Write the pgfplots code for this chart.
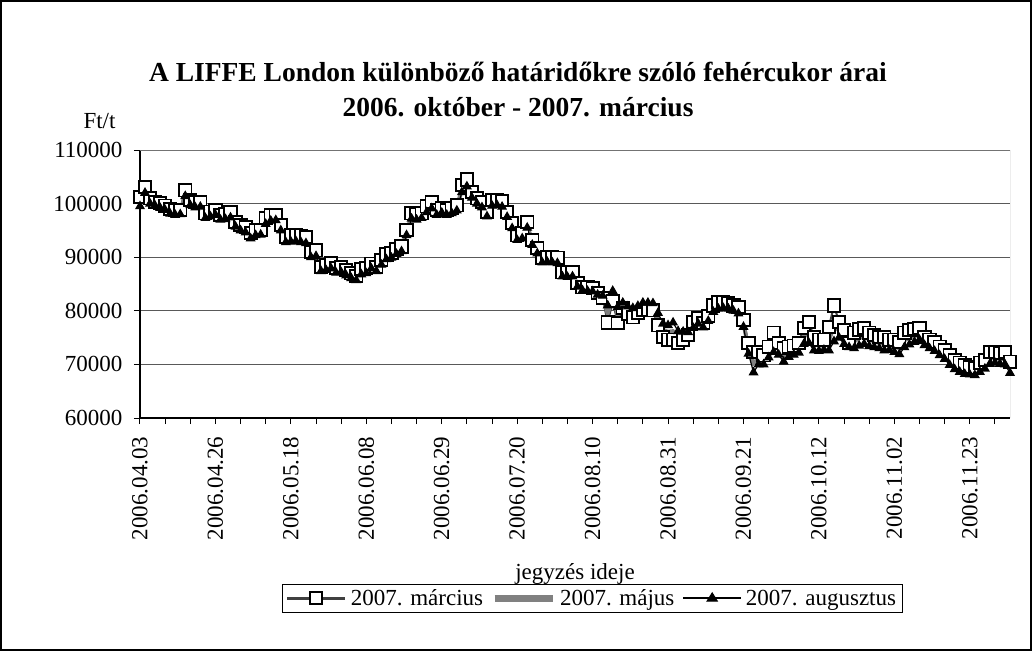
\documentclass[border=0pt]{standalone}
\usepackage{fontspec}
\setmainfont{Liberation Serif}
\usepackage{pgfplots}
\pgfplotsset{compat=1.18}
\usepackage{pgfplotstable}

\pgfplotsset{
    marleg/.style={legend image code/.code={
        \draw[black!75, line width=3pt] (0pt,0pt) -- (58pt,0pt);
        \draw[black, line width=1.8pt, fill=white] (23pt,-6pt) rectangle (35pt,6pt);}},
    majleg/.style={legend image code/.code={
        \draw[black!50, line width=7pt] (0pt,0pt) -- (58pt,0pt);}},
    augleg/.style={legend image code/.code={
        \draw[black, line width=1.5pt] (0pt,0pt) -- (58pt,0pt);
        \fill[black] (24pt,-3pt) -- (34pt,-3pt) -- (29pt,5pt) -- cycle;}},
}

% i = trading day index, prices in Ft/t
\pgfplotstableread{
i mar maj aug
0 101200 100200 99500
1 103100 102500 102000
2 101000 100400 100000
3 100300 99900 99600
4 100100 99600 99200
5 99600 99100 98800
6 99000 98500 98100
7 98800 98200 97900
8 98800 98300 98000
9 102500 101900 101400
10 100700 100100 99700
11 100300 99700 99300
12 100300 99800 99400
13 98200 97700 97300
14 98500 98000 97600
15 98800 98300 97900
16 97900 97400 97000
17 98000 97500 97100
18 98400 97800 97400
19 96600 96100 95700
20 96000 95400 95000
21 95600 95000 94600
22 94500 93900 93500
23 95100 94500 94100
24 95100 94600 94200
25 97300 96700 96200
26 97800 97200 96800
27 97900 97300 96900
28 96000 95400 95000
29 93800 93200 92800
30 94100 93400 92900
31 94100 93500 93000
32 94000 93300 92800
33 93800 93100 92600
34 91000 90400 90000
35 91300 90600 90200
36 88200 87700 87400
37 88500 88000 87600
38 88900 88300 87900
39 88000 87500 87100
40 88200 87600 87200
41 87600 87000 86600
42 87000 86500 86100
43 86500 86000 85700
44 87800 87200 86800
45 88000 87400 87000
46 88800 88300 87900
47 88200 87800 87400
48 89500 89000 88600
49 90500 90000 89600
50 90800 90300 89900
51 91500 91000 90600
52 92000 91500 91100
53 95100 94500 94100
54 98200 97600 97200
55 98000 97400 97000
56 98200 97700 97300
57 99500 98900 98400
58 100300 99600 99100
59 98800 98300 97900
60 99200 98700 98300
61 98800 98300 97900
62 99200 98600 98200
63 99700 99100 98700
64 103500 102700 102100
65 104500 103700 103200
66 102200 101600 101100
67 101000 100400 100000
68 100300 99700 99300
69 98400 98000 97600
70 100700 100100 99600
71 100700 100100 99700
72 100500 99900 99400
73 98400 97900 97500
74 96400 95800 95400
75 94100 93600 93200
76 94500 93900 93500
77 96600 96000 95500
78 93200 92700 92300
79 91700 91100 90700
80 89900 89400 89000
81 90000 89500 89100
82 90000 89400 89000
83 89900 89300 88900
84 87200 86800 86400
85 87200 86700 86300
86 87200 86800 86400
87 85200 84800 84500
88 84400 84100 83800
89 84400 84000 83700
90 84200 83900 83600
91 83300 83200 83000
92 82400 82600 82800
93 77800 79500 81000
94 81800 82800 83700
95 77700 79300 80700
96 80500 81000 81500
97 79500 80200 80800
98 78800 79700 80500
99 79600 80300 80900
100 80200 80900 81500
101 80200 80900 81500
102 80100 80800 81400
103 77300 78500 79600
104 75100 76400 77600
105 74600 76100 77300
106 74600 76200 77800
107 74000 75200 76200
108 74600 75400 76100
109 75500 75800 76000
110 77900 77300 76800
111 78600 78100 77600
112 77700 77300 76900
113 79000 78500 78100
114 81000 80300 79800
115 81600 80900 80400
116 81600 81000 80500
117 81400 80800 80400
118 81000 80400 80000
119 80700 80000 79500
120 78300 77600 77000
121 74000 72900 72000
122 72300 70200 68500
123 72300 71000 70000
124 71700 70800 70000
125 73300 72200 71300
126 75900 73800 72300
127 74000 72800 71800
128 73000 71700 70500
129 73300 72300 71400
130 73500 72600 71800
131 74000 73000 72200
132 76800 75200 73800
133 77900 75800 74000
134 75100 73800 72600
135 74600 73500 72500
136 74600 73600 72700
137 77000 74500 72600
138 81000 77200 74300
139 77900 76300 75000
140 76400 75000 73800
141 74000 73600 73200
142 75900 74300 73000
143 76500 74900 73500
144 76800 75200 73800
145 75900 74600 73400
146 75500 74300 73200
147 75100 74000 73000
148 75100 73800 72600
149 74600 73600 72700
150 74600 73400 72300
151 74200 73000 71900
152 75900 74500 73200
153 76400 75000 73700
154 76600 75300 74200
155 76800 75500 74600
156 75100 74300 73600
157 74600 73800 73000
158 74200 73300 72500
159 73300 72500 71700
160 72700 71800 71000
161 71700 70700 69900
162 70800 69900 69100
163 70300 69400 68600
164 69900 69000 68200
165 69500 68800 68100
166 69300 68600 68000
167 70300 69400 68600
168 70800 69900 69200
169 72300 71100 70100
170 72300 71200 70300
171 72100 71000 70100
172 72300 71100 70000
173 70500 69400 68400
}\cukor

\begin{document}
\begin{tikzpicture}
\path[use as bounding box] (-140pt,-233pt) rectangle (892pt,418pt);
\draw[line width=1.5pt] (-139pt,-232pt) rectangle (891pt,417pt);

\begin{axis}[
    scale only axis,
    width=870pt, height=268pt,
    xmin=0, xmax=173,
    ymin=60000, ymax=110000,
    axis x line*=bottom, axis y line*=left,
    ytick={60000,70000,80000,90000,100000,110000},
    yticklabels={60000,70000,80000,90000,100000,110000},
    yticklabel shift=8pt,
    xtick={0,5,...,170},
    xticklabels={2006.04.03,,,2006.04.26,,,2006.05.18,,,2006.06.08,,,2006.06.29,,,2006.07.20,,,2006.08.10,,,2006.08.31,,,2006.09.21,,,2006.10.12,,,2006.11.02,,,2006.11.23,,},
    x tick label style={rotate=90, anchor=east},
    xticklabel shift=9pt,
    tick label style={font=\fontsize{23}{27}\selectfont},
    scaled y ticks=false,
    tick align=outside,
    major tick length=6pt,
    ymajorgrids,
    grid style={black!65, line width=0.9pt},
    axis line style={black, line width=1.3pt, -},
    every tick/.style={black, line width=1pt},
    legend columns=3,
    legend style={at={(axis description cs:0.5195,-0.672)}, anchor=center,
        draw=black, font=\fontsize{23}{27}\selectfont,
        inner xsep=4pt, inner ysep=3pt,
        /tikz/every odd column/.append style={column sep=2pt},
        /tikz/every even column/.append style={column sep=6pt}},
    legend cell align=left,
]
\draw[black!55, line width=1pt] (rel axis cs:0,1) -- (rel axis cs:1,1) -- (rel axis cs:1,0);

\addplot[draw=black!75, line width=2pt, mark=square*, mark size=6.2pt,
    mark options={fill=white, draw=black, line width=1.8pt, solid}, marleg]
    table[x=i, y=mar] {\cukor};
\addlegendentry{2007. március}

\addplot[draw=black!50, line width=4pt, no marks, majleg]
    table[x=i, y=maj] {\cukor};
\addlegendentry{2007. május}

\addplot[draw=black, line width=1.2pt, mark=triangle*, mark size=4.6pt,
    mark options={fill=black, solid}, augleg]
    table[x=i, y=aug] {\cukor};
\addlegendentry{2007. augusztus}
\end{axis}

\node[anchor=base, font=\fontsize{27.5}{32}\selectfont\bfseries] at (378pt,336pt)
    {A LIFFE London különböző határidőkre szóló fehércukor árai};
\node[anchor=base, font=\fontsize{27.5}{32}\selectfont\bfseries] at (378pt,301pt)
    {2006. október - 2007. március};
\node[anchor=base west, font=\fontsize{23}{27}\selectfont] at (-60pt,289pt) {Ft/t};
\node[anchor=base, font=\fontsize{23}{27}\selectfont] at (435pt,-161pt) {jegyzés ideje};
\end{tikzpicture}
\end{document}
